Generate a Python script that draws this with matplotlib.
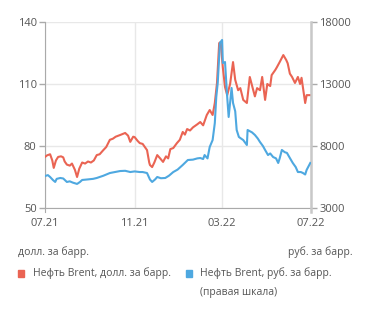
import matplotlib
matplotlib.use("Agg")
import matplotlib.pyplot as plt
import pandas as pd

# Brent, USD per barrel (left axis)
usd_dates = [
    "2021-07-01", "2021-07-04", "2021-07-08", "2021-07-11", "2021-07-13", "2021-07-16",
    "2021-07-19", "2021-07-23", "2021-07-26", "2021-07-28", "2021-07-31", "2021-08-04",
    "2021-08-07", "2021-08-11", "2021-08-14", "2021-08-17", "2021-08-21", "2021-08-25",
    "2021-08-29", "2021-09-02", "2021-09-06", "2021-09-10", "2021-09-14", "2021-09-19",
    "2021-09-23", "2021-09-28", "2021-10-02", "2021-10-06", "2021-10-12", "2021-10-19",
    "2021-10-23", "2021-10-26", "2021-10-30", "2021-11-01", "2021-11-05", "2021-11-08",
    "2021-11-12", "2021-11-15", "2021-11-18", "2021-11-21", "2021-11-22", "2021-11-25",
    "2021-11-28", "2021-12-02", "2021-12-06", "2021-12-10", "2021-12-14", "2021-12-17",
    "2021-12-20", "2021-12-24", "2021-12-29", "2022-01-02", "2022-01-06", "2022-01-09",
    "2022-01-12", "2022-01-16", "2022-01-20", "2022-01-26", "2022-01-30", "2022-02-03",
    "2022-02-08", "2022-02-12", "2022-02-16", "2022-02-19", "2022-02-22", "2022-02-25",
    "2022-02-27", "2022-03-02", "2022-03-05", "2022-03-08", "2022-03-12", "2022-03-16",
    "2022-03-19", "2022-03-23", "2022-03-26", "2022-03-30", "2022-04-04", "2022-04-08",
    "2022-04-12", "2022-04-15", "2022-04-18", "2022-04-22", "2022-04-25", "2022-04-29",
    "2022-05-02", "2022-05-06", "2022-05-08", "2022-05-13", "2022-05-15", "2022-05-19",
    "2022-05-24", "2022-05-28", "2022-05-30", "2022-06-02", "2022-06-05", "2022-06-09",
    "2022-06-13", "2022-06-16", "2022-06-18", "2022-06-23", "2022-06-25", "2022-06-27",
    "2022-06-30",
]
usd_values = [
    74.7, 75.5, 76.0, 73.0, 69.4, 73.0,
    74.7, 75.0, 74.5, 72.5, 71.0, 70.5,
    71.5, 68.5, 65.0, 69.0, 72.0, 71.5,
    72.5, 72.0, 73.0, 75.6, 76.0, 78.0,
    79.5, 83.0, 83.5, 84.5, 85.3, 86.3,
    85.0, 82.0, 84.5, 84.3, 82.5, 81.4,
    81.0, 79.5, 78.0, 72.0, 70.8, 69.8,
    72.0, 75.6, 74.0, 72.3, 75.0, 74.0,
    78.5, 79.0, 81.4, 83.0, 86.8, 85.5,
    88.2, 87.5, 89.0, 90.5, 91.6, 90.0,
    95.0, 97.4, 95.0, 100.8, 110.5, 129.8,
    130.3, 118.0, 108.5, 104.6, 110.0, 120.6,
    112.0, 107.0, 108.0, 102.3, 100.8, 113.4,
    108.0, 104.0, 108.0, 107.0, 113.4, 102.3,
    110.0, 109.0, 114.3, 116.8, 118.0, 120.6,
    124.0, 121.6, 120.0, 115.0, 113.4, 110.5,
    113.4, 110.0, 113.0, 100.8, 104.6, 104.6,
    104.6,
]

# Brent, RUB per barrel (right axis)
rub_dates = [
    "2021-07-01", "2021-07-05", "2021-07-08", "2021-07-12", "2021-07-15", "2021-07-17",
    "2021-07-22", "2021-07-26", "2021-07-31", "2021-08-04", "2021-08-08", "2021-08-14",
    "2021-08-18", "2021-08-21", "2021-08-28", "2021-09-05", "2021-09-10", "2021-09-19",
    "2021-09-28", "2021-10-05", "2021-10-12", "2021-10-19", "2021-10-26", "2021-11-01",
    "2021-11-08", "2021-11-12", "2021-11-18", "2021-11-22", "2021-11-25", "2021-11-29",
    "2021-12-02", "2021-12-07", "2021-12-13", "2021-12-18", "2021-12-24", "2021-12-30",
    "2022-01-06", "2022-01-13", "2022-01-20", "2022-01-26", "2022-01-30", "2022-02-03",
    "2022-02-05", "2022-02-09", "2022-02-12", "2022-02-16", "2022-02-19", "2022-02-21",
    "2022-02-23", "2022-02-26", "2022-03-01", "2022-03-02", "2022-03-05", "2022-03-08",
    "2022-03-10", "2022-03-14", "2022-03-16", "2022-03-19", "2022-03-21", "2022-03-24",
    "2022-03-27", "2022-03-30", "2022-04-04", "2022-04-05", "2022-04-11", "2022-04-15",
    "2022-04-19", "2022-04-22", "2022-04-26", "2022-04-29", "2022-05-03", "2022-05-06",
    "2022-05-10", "2022-05-14", "2022-05-17", "2022-05-19", "2022-05-22", "2022-05-26",
    "2022-05-29", "2022-06-02", "2022-06-06", "2022-06-10", "2022-06-13", "2022-06-17",
    "2022-06-20", "2022-06-23", "2022-06-25", "2022-06-30",
]
rub_values = [
    5580, 5650, 5500, 5250, 5100, 5350,
    5420, 5380, 5100, 5150, 5050, 4940,
    5100, 5260, 5300, 5350, 5420, 5600,
    5820, 5900, 5980, 6000, 5900, 5950,
    5900, 5900, 5820, 5300, 5100, 5300,
    5500, 5400, 5420, 5600, 5900, 6100,
    6470, 6870, 6900, 7000, 7030, 6950,
    7270, 7000, 7920, 8480, 9850, 11950,
    13080, 16300, 16550, 14690, 14770, 11950,
    10340, 12680, 11470, 10800, 9290, 8730,
    8600, 8480, 8080, 9290, 9100, 8890,
    8600, 8320, 8000, 7680, 7270, 7400,
    7110, 7000, 6630, 7000, 7680, 7500,
    7440, 7030, 6630, 6300, 5900, 5900,
    5820, 5700, 6070, 6630,
]

x_ticks = ["2021-07-01", "2021-11-01", "2022-03-01", "2022-07-01"]
x_tick_labels = ["07.21", "11.21", "03.22", "07.22"]
left_ticks = [50, 80, 110, 140]
right_ticks = [3000, 8000, 13000, 18000]

red = "#EA6453"
blue = "#4EA8E0"
txt = "#555555"
grey = "#AAAAAA"

plt.rcParams["font.family"] = ["Open Sans", "DejaVu Sans"]

fig = plt.figure(figsize=(3.71, 3.15), dpi=100)
ax = fig.add_axes([0.1213, 0.3397, 0.7170, 0.5905])
ax2 = ax.twinx()

ax.plot(pd.to_datetime(usd_dates), usd_values, color=red, linewidth=1.5, zorder=3)
ax2.plot(pd.to_datetime(rub_dates), rub_values, color=blue, linewidth=1.5, zorder=3)

ax.set_xlim(pd.Timestamp("2021-07-01"), pd.Timestamp("2022-07-01"))
ax.set_ylim(50, 140)
ax2.set_ylim(3000, 18000)

ax.set_xticks(pd.to_datetime(x_ticks))
ax.set_xticklabels(x_tick_labels)
ax.set_yticks(left_ticks)
ax2.set_yticks(right_ticks)

ax.grid(True, color="#E8E8E8", linewidth=1.0, zorder=0)
ax.set_axisbelow(True)

for a in (ax, ax2):
    a.spines["top"].set_visible(False)
    a.tick_params(colors=grey, labelcolor=txt, labelsize=8, length=4, width=1)
ax.spines["left"].set_color(grey)
ax.spines["left"].set_bounds(48, 140)
ax.spines["bottom"].set_color(grey)
ax.spines["right"].set_visible(False)
ax2.spines["left"].set_visible(False)
ax2.spines["bottom"].set_visible(False)
ax2.spines["right"].set_color("#C8C8C8")
ax2.spines["right"].set_linewidth(1.8)
ax2.spines["right"].set_bounds(2700, 18000)
ax.tick_params(axis="x", length=0, pad=7)
ax.tick_params(axis="y", pad=2)
ax2.tick_params(axis="y", pad=2)

fig.text(0.048, 0.200, "долл. за барр.", fontsize=7.5, color=txt, va="center")
fig.text(0.950, 0.200, "руб. за барр.", fontsize=7.5, color=txt, va="center", ha="right")

fig.patches.append(plt.Rectangle((0.048, 0.122), 0.018, 0.021, transform=fig.transFigure, color=red))
fig.text(0.088, 0.132, "Нефть Brent, долл. за барр.", fontsize=7.5, color=txt, va="center")
fig.patches.append(plt.Rectangle((0.500, 0.122), 0.018, 0.021, transform=fig.transFigure, color=blue))
fig.text(0.540, 0.132, "Нефть Brent, руб. за барр.", fontsize=7.5, color=txt, va="center")
fig.text(0.540, 0.073, "(правая шкала)", fontsize=7.5, color=txt, va="center")

fig.savefig("out.png", dpi=100)
